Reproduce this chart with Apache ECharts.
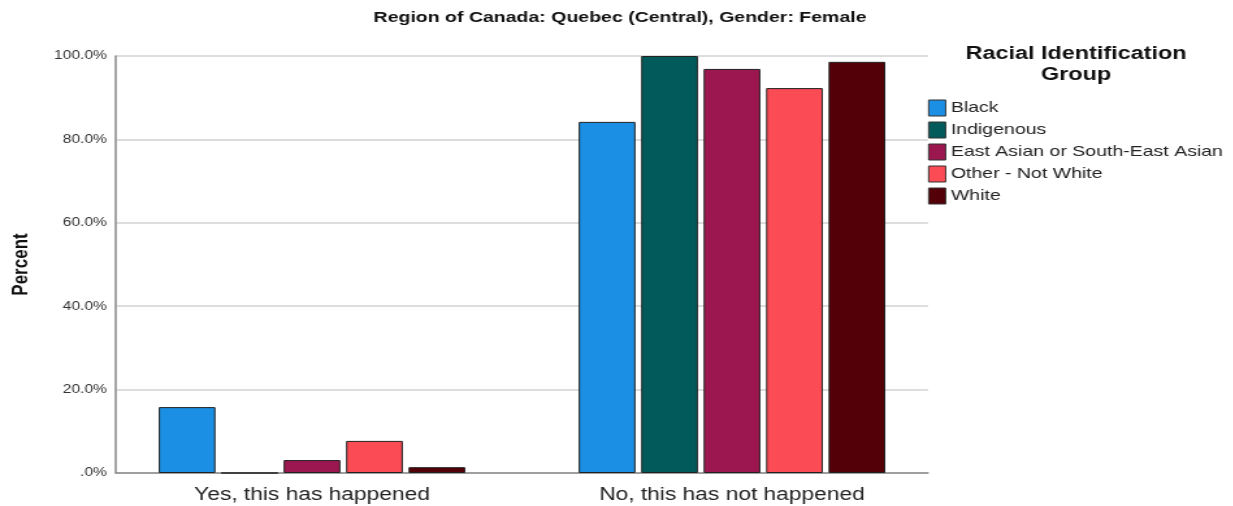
<!DOCTYPE html>
<html>
<head>
<meta charset="utf-8">
<script src="https://cdn.jsdelivr.net/npm/echarts@6/dist/echarts.min.js"></script>
<style>
  html, body { margin: 0; padding: 0; background: #fff; overflow: hidden; }
  /* the chart is laid out in a narrower box and widened horizontally */
  #wrap { width: 1233px; height: 506px; overflow: hidden; }
  #chart { width: 948.46px; height: 506px; transform: scaleX(1.3); transform-origin: 0 0; }
</style>
</head>
<body>
<div id="wrap"><div id="chart"></div></div>
<script>
// Survey responses by racial identification group
const categories = ['Yes, this has happened', 'No, this has not happened'];
const groups = ['Black', 'Indigenous', 'East Asian or South-East Asian', 'Other - Not White', 'White'];
const black = [15.8, 84.2];
const indigenous = [0.0, 100.0];
const eastAsian = [3.1, 96.9];
const otherNotWhite = [7.7, 92.3];
const white = [1.4, 98.6];
const yTicks = [0, 20, 40, 60, 80, 100];

const seriesValues = [black, indigenous, eastAsian, otherNotWhite, white];
const colors = ['#1a8fe3', '#035a5a', '#9c1750', '#fb4b54', '#540008'];

const SX = 1.3;            // horizontal widening of the chart box
const px = x => x / SX;    // page x -> chart x

const FONT = 'Liberation Sans, Arial, sans-serif';
const chart = echarts.init(document.getElementById('chart'));

chart.setOption({
  animation: false,
  textStyle: { fontFamily: FONT },
  title: [
    {
      text: 'Region of Canada: Quebec (Central), Gender: Female',
      left: px(620), top: 10, textAlign: 'center', padding: 0,
      textStyle: { fontSize: 15, fontWeight: 'bold', color: '#111', fontFamily: FONT }
    },
    {
      text: 'Racial Identification\nGroup',
      left: px(1076), top: 44, textAlign: 'center', padding: 0,
      textStyle: { fontSize: 18, fontWeight: 'bold', color: '#111', lineHeight: 21, fontFamily: FONT }
    }
  ],
  legend: {
    data: groups,
    orient: 'vertical',
    left: px(928), top: 99.5, padding: 0,
    itemWidth: px(17), itemHeight: 16, itemGap: 5,
    icon: 'rect',
    textStyle: { fontSize: 15, color: '#222', lineHeight: 16, padding: [0, 0, 0, -1], fontFamily: FONT },
    itemStyle: { borderColor: '#333', borderWidth: 1 }
  },
  grid: [
    // axis frame
    { left: px(116), width: px(928) - px(116), top: 56, bottom: 33 },
    // bar area
    { left: px(102), width: px(942) - px(102), top: 56, bottom: 33 }
  ],
  xAxis: [
    {
      gridIndex: 0, type: 'category', data: categories,
      axisLine: { show: true, lineStyle: { color: '#8a8a8a', width: 1.5 } },
      axisTick: { show: false }, axisLabel: { show: false }
    },
    {
      gridIndex: 1, type: 'category', data: categories,
      axisLine: { show: false }, axisTick: { show: false },
      axisLabel: { fontSize: 17.5, color: '#222', margin: 13, fontFamily: FONT }
    }
  ],
  yAxis: [
    {
      gridIndex: 0, type: 'value', min: 0, max: 100, interval: 20,
      name: 'Percent', nameLocation: 'middle', nameRotate: 90, nameGap: 64,
      nameTextStyle: { fontSize: 17, fontWeight: 'bold', color: '#111', fontFamily: FONT },
      axisLine: { show: true, lineStyle: { color: '#8a8a8a', width: 1.5 } },
      axisTick: { show: false },
      axisLabel: {
        fontSize: 12, color: '#333', margin: 7, fontFamily: FONT,
        customValues: yTicks,
        formatter: v => (v === 0 ? '.0%' : v.toFixed(1) + '%')
      },
      splitLine: { show: true, lineStyle: { color: '#d2d2d2', width: 1.5 } }
    },
    {
      gridIndex: 1, type: 'value', min: 0, max: 100,
      show: false, splitLine: { show: false }
    }
  ],
  series: groups.map((name, i) => ({
    name,
    type: 'bar',
    xAxisIndex: 1, yAxisIndex: 1,
    data: seriesValues[i],
    barGap: '10%',
    barCategoryGap: '27%',
    itemStyle: { color: colors[i], borderColor: '#222', borderWidth: 1 }
  }))
});
</script>
</body>
</html>
